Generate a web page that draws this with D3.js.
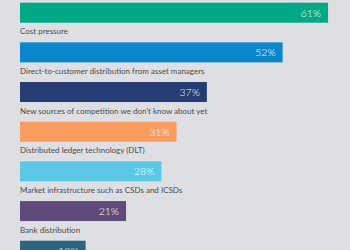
<!DOCTYPE html>
<html>
<head>
<meta charset="utf-8">
<script src="https://cdn.jsdelivr.net/npm/d3@7"></script>
<style>
  body { margin: 0; background: #dedfe2; }
  svg { display: block; }
  .label { font-family: Lato, sans-serif; font-size: 8px; fill: #4a4a4a; }
  .value { font-family: Lato, sans-serif; font-size: 10.5px; font-weight: 300; fill: #ffffff; }
</style>
</head>
<body>
<div id="chart"></div>
<script>
var w = 350,
    h = 250;

var categories = ['Cost pressure',
    'Direct-to-customer distribution from asset managers',
    'New sources of competition we don\u2019t know about yet',
    'Distributed ledger technology (DLT)',
    'Market infrastructure such as CSDs and ICSDs',
    'Bank distribution',
    'Other'];
var values = [61, 52, 37, 31, 28, 21, 13];
var colors = ['#00a886', '#0a87cc', '#243b73', '#f89c60', '#5bc8e6', '#5e4b7c', '#2b6580'];

var svg = d3.select("#chart")
    .append("svg")
    .attr("width", w)
    .attr("height", h);

svg.append("rect")
    .attr("width", w)
    .attr("height", h)
    .style("fill", "#dedfe2");

var x = d3.scaleLinear().domain([0, 100]).range([20, 525]);
// step ~39.7px, bars 20px tall
var y = d3.scaleBand().domain(d3.range(categories.length))
    .range([2.7, 2.7 + 39.67 * (categories.length - 1) + 20])
    .paddingInner(0.496).paddingOuter(0);

var bar = svg.selectAll("g.bar")
    .data(values)
    .enter()
    .append("g")
    .attr("class", "bar");

bar.append("rect")
    .attr("x", x(0))
    .attr("y", function (d, i) { return y(i); })
    .attr("height", y.bandwidth())
    .attr("width", function (d) { return x(d) - x(0); })
    .style("fill", function (d, i) { return colors[i]; });

bar.append("text")
    .attr("class", "value")
    .attr("x", function (d) { return x(d) - 7; })
    .attr("y", function (d, i) { return y(i) + 14; })
    .attr("text-anchor", "end")
    .text(function (d) { return d + "%"; });

bar.append("text")
    .attr("class", "label")
    .attr("x", x(0))
    .attr("y", function (d, i) { return y(i) + 31.5; })
    .text(function (d, i) { return categories[i]; });
</script>
</body>
</html>
